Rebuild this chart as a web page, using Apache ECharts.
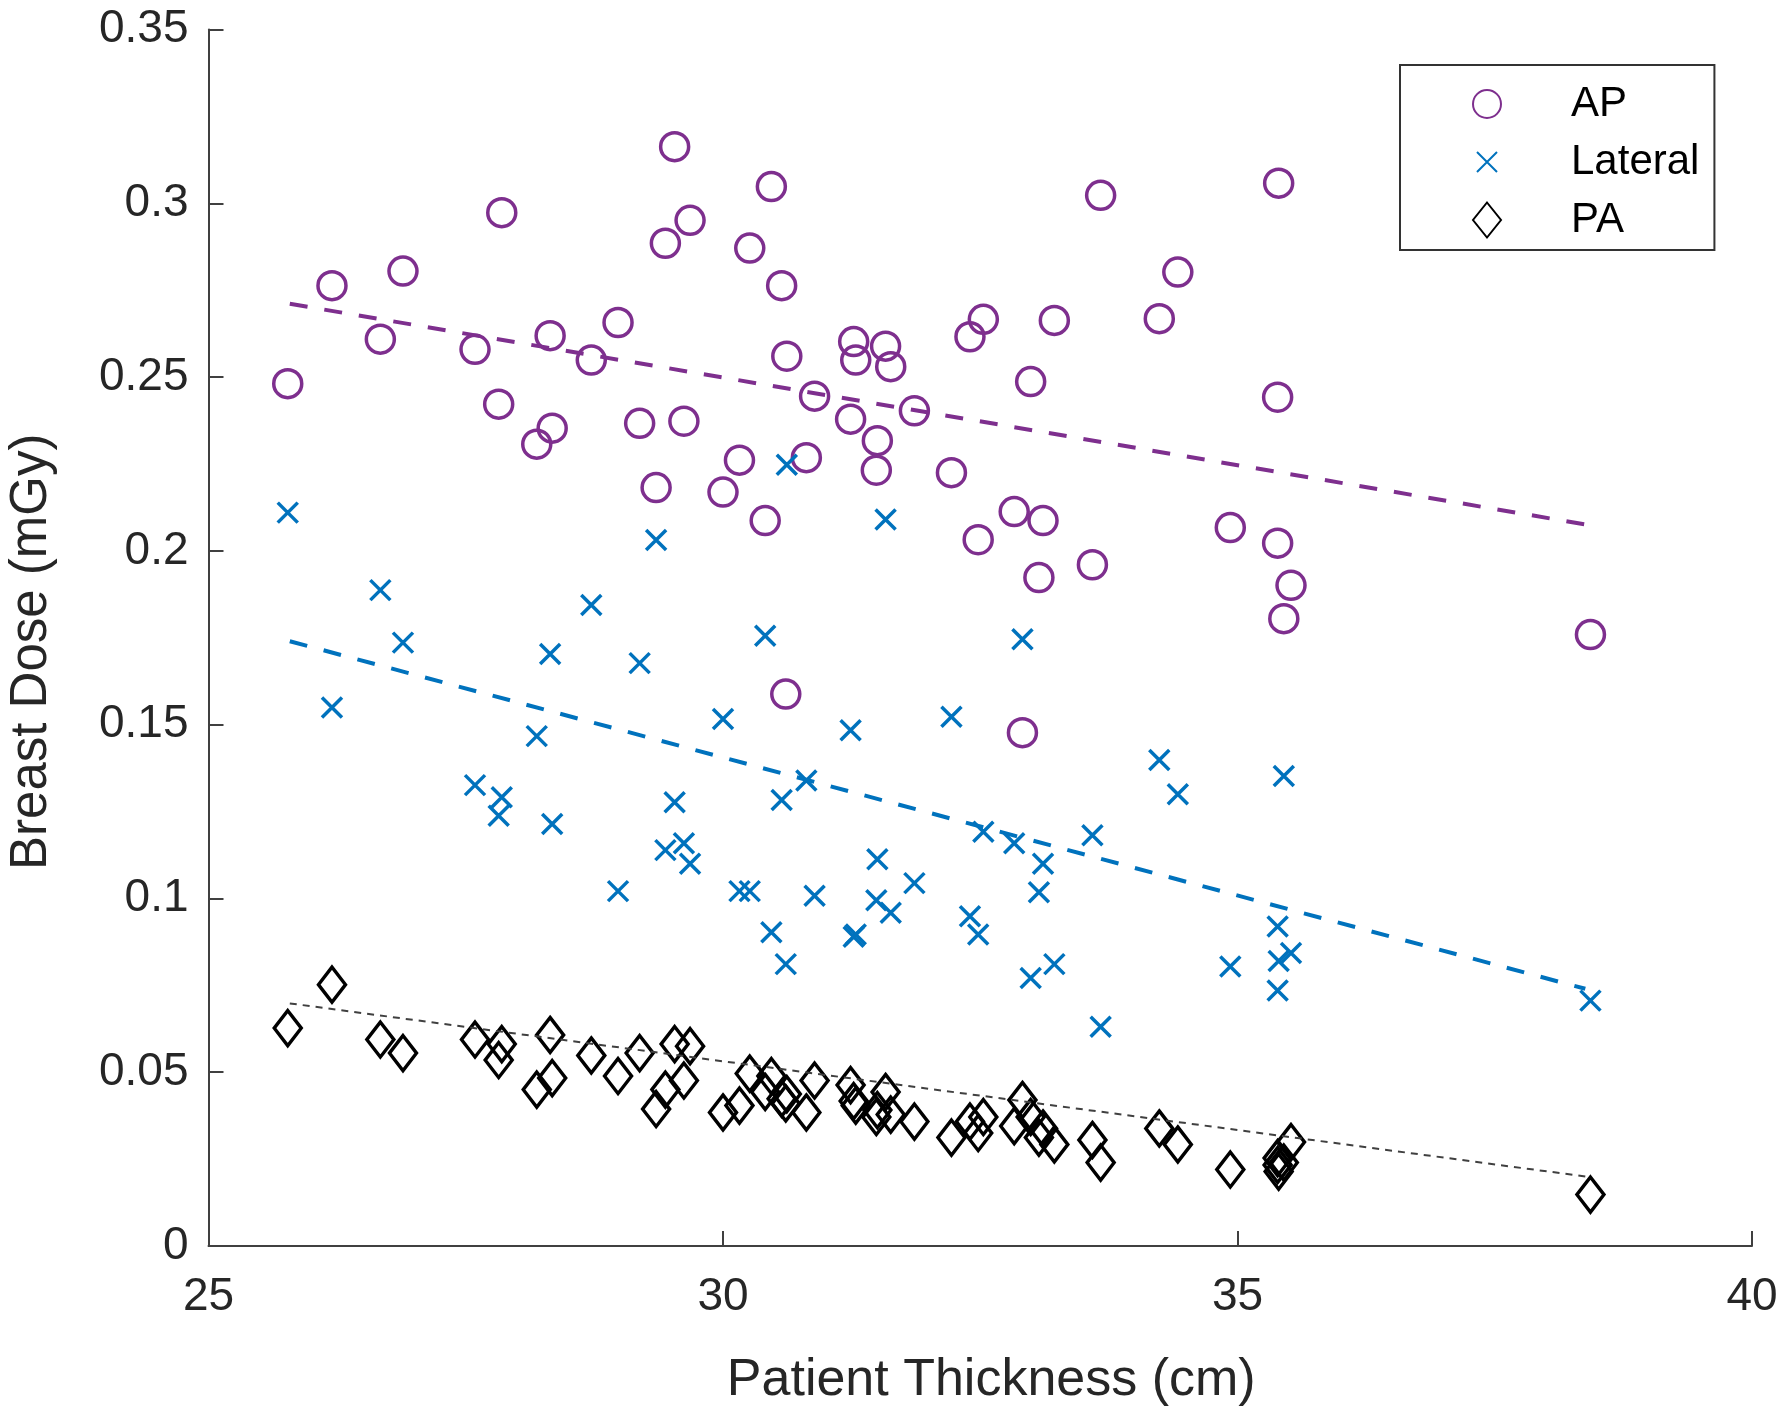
<!DOCTYPE html>
<html><head><meta charset="utf-8">
<script src="https://cdn.jsdelivr.net/npm/echarts@6/dist/echarts.min.js"></script>
<style>html,body{margin:0;padding:0;background:#fff}#c{width:1788px;height:1424px}</style>
</head><body><div id="c"></div>
<script>
// Patient thickness (cm), one value per patient
const thickness = [25.77,26.20,26.67,26.89,27.59,27.85,27.82,28.19,28.32,28.34,28.72,28.98,29.19,29.35,29.44,29.53,29.62,29.68,30.00,30.16,30.26,30.41,30.47,30.57,30.62,30.61,30.81,30.89,31.24,31.27,31.29,31.50,31.49,31.58,31.63,31.86,32.22,32.40,32.48,32.53,32.83,32.91,32.99,33.07,33.11,33.22,33.59,33.67,34.24,34.42,34.93,35.39,35.40,35.39,35.45,35.52,38.43];
// AP breast dose (mGy)
const apDose = [0.2481,0.2763,0.2609,0.2805,0.2580,0.2973,0.2422,0.2307,0.2619,0.2353,0.2549,0.2657,0.2367,0.2182,0.2885,0.3163,0.2373,0.2951,0.2169,0.2261,0.2871,0.2087,0.3048,0.2763,0.2560,0.1588,0.2268,0.2445,0.2379,0.2602,0.2549,0.2317,0.2232,0.2589,0.2530,0.2403,0.2225,0.2616,0.2032,0.2666,0.2113,0.1477,0.2487,0.1923,0.2087,0.2663,0.1960,0.3023,0.2668,0.2802,0.2067,0.2442,0.3058,0.2022,0.1805,0.1901,0.1759];
// Lateral breast dose (mGy)
const lateralDose = [0.2110,0.1549,0.1887,0.1736,0.1326,0.1291,0.1238,0.1467,0.1703,0.1214,0.1844,0.1021,0.1677,0.2031,0.1139,0.1277,0.1159,0.1100,0.1516,0.1021,0.1021,0.1756,0.0903,0.1283,0.2248,0.0811,0.1339,0.1008,0.1484,0.0890,0.0896,0.1113,0.0995,0.2090,0.0959,0.1044,0.1523,0.0949,0.0896,0.1192,0.1159,0.1746,0.0771,0.1018,0.1100,0.0811,0.1182,0.0631,0.1398,0.1300,0.0804,0.0919,0.0820,0.0735,0.1352,0.0843,0.0706];
// PA breast dose (mGy)
const paDose = [0.0627,0.0752,0.0594,0.0555,0.0594,0.0581,0.0535,0.0450,0.0607,0.0483,0.0548,0.0489,0.0555,0.0394,0.0450,0.0581,0.0476,0.0575,0.0384,0.0404,0.0496,0.0443,0.0489,0.0424,0.0437,0.0410,0.0384,0.0476,0.0463,0.0417,0.0404,0.0391,0.0371,0.0443,0.0378,0.0358,0.0312,0.0358,0.0325,0.0371,0.0345,0.0420,0.0371,0.0312,0.0338,0.0292,0.0305,0.0240,0.0338,0.0292,0.0220,0.0253,0.0214,0.0233,0.0240,0.0299,0.0148];
// Linear fit end points
const fitX = [25.79, 38.38];
const apFit = [0.2711, 0.2076];
const lateralFit = [0.1740, 0.0740];
const paFit = [0.0698, 0.0200];
const seriesNames = ['AP', 'Lateral', 'PA'];

const FONT = 'Liberation Sans, Arial, Helvetica, sans-serif';
const C_AP = '#7E2F8E', C_LAT = '#0072BD', C_PA = '#000000';
const pts = ys => thickness.map((x, i) => [x, ys[i]]);
const fit = ys => fitX.map((x, i) => [x, ys[i]]);
const crossPath = 'path://M0,0L20,20M20,0L0,20';
const crossLegend = 'path://M0,0L0,0M4,4L24,24M24,4L4,24M28,28L28,28';

const chart = echarts.init(document.getElementById('c'), null, {renderer: 'canvas'});
chart.setOption({
  animation: false,
  backgroundColor: '#ffffff',
  grid: {left: 208.5, right: 36, top: 29.5, bottom: 178, containLabel: false, outerBoundsMode: 'none'},
  xAxis: {
    type: 'value', min: 25, max: 40, interval: 5,
    name: 'Patient Thickness (cm)', nameLocation: 'middle', nameGap: 109, nameMoveOverlap: false,
    nameTextStyle: {fontFamily: FONT, fontSize: 52, color: '#262626', padding: [0, 0, 0, 22]},
    axisLine: {show: true, onZero: false, lineStyle: {color: '#404040', width: 2}},
    axisTick: {show: true, inside: true, length: 15, lineStyle: {color: '#404040', width: 2}},
    axisLabel: {fontFamily: FONT, fontSize: 46, color: '#262626', margin: 28},
    splitLine: {show: false}
  },
  yAxis: {
    type: 'value', min: 0, max: 0.35, interval: 0.05,
    name: 'Breast Dose (mGy)', nameLocation: 'middle', nameGap: 151, nameMoveOverlap: false,
    nameTextStyle: {fontFamily: FONT, fontSize: 51, color: '#262626', padding: [0, 28, 0, 0]},
    axisLine: {show: true, onZero: false, lineStyle: {color: '#404040', width: 2}},
    axisTick: {show: true, inside: true, length: 15, lineStyle: {color: '#404040', width: 2}},
    axisLabel: {fontFamily: FONT, fontSize: 46, color: '#262626', margin: 20},
    splitLine: {show: false}
  },
  legend: {
    show: true, orient: 'vertical', left: 1400, top: 65,
    padding: [18, 15, 9, 72], itemGap: 16, itemWidth: 28, itemHeight: 35,
    backgroundColor: '#ffffff', borderColor: '#333333', borderWidth: 2, borderRadius: 0,
    textStyle: {fontFamily: FONT, fontSize: 42, color: '#000000', padding: [0, 0, 0, 65]},
    data: [
      {name: seriesNames[0], icon: 'circle'},
      {name: seriesNames[1], icon: crossLegend},
      {name: seriesNames[2], icon: 'diamond'}
    ]
  },
  series: [
    {name: seriesNames[0], type: 'scatter', data: pts(apDose), symbol: 'circle', symbolSize: 28,
     itemStyle: {color: 'rgba(0,0,0,0)', borderColor: C_AP, borderWidth: 3.5, opacity: 1}, z: 2},
    {name: seriesNames[1], type: 'scatter', data: pts(lateralDose), symbol: crossPath, symbolSize: 20,
     itemStyle: {color: 'rgba(0,0,0,0)', borderColor: C_LAT, borderWidth: 3.5, opacity: 1}, z: 2},
    {name: seriesNames[2], type: 'scatter', data: pts(paDose), symbol: 'diamond', symbolSize: [27, 35],
     itemStyle: {color: 'rgba(0,0,0,0)', borderColor: C_PA, borderWidth: 3.5, opacity: 1}, z: 2},
    {name: 'AP fit', type: 'line', data: fit(apFit), symbol: 'none', silent: true,
     lineStyle: {color: C_AP, width: 4, type: [18, 17]}, z: 3},
    {name: 'Lateral fit', type: 'line', data: fit(lateralFit), symbol: 'none', silent: true,
     lineStyle: {color: C_LAT, width: 4, type: [18, 17]}, z: 3},
    {name: 'PA fit', type: 'line', data: fit(paFit), symbol: 'none', silent: true,
     lineStyle: {color: '#404040', width: 2, type: [7, 6]}, z: 3}
  ]
});
</script></body></html>
